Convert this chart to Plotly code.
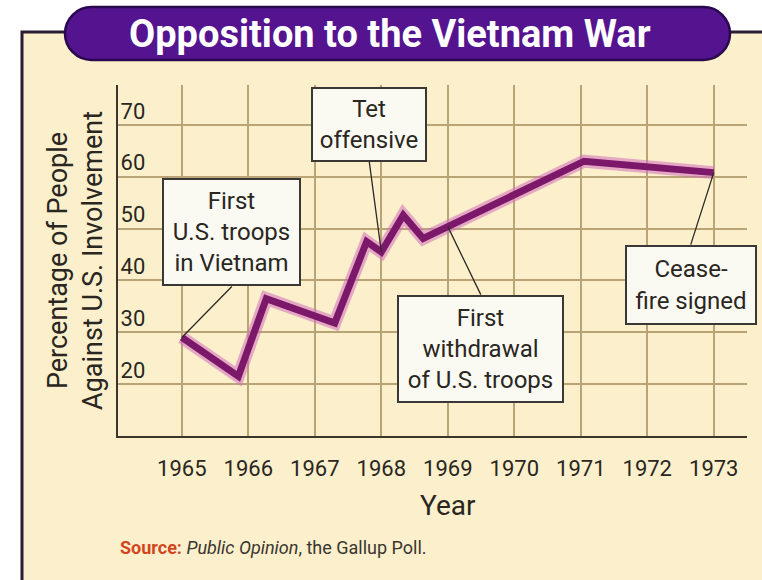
import numpy as np
import plotly.graph_objects as go

# ---------------- data ----------------
years = [1965.0, 1965.85, 1966.27, 1967.30, 1967.78, 1968.0, 1968.33, 1968.63, 1971.05, 1973.0]
percent_against = [29.0, 21.5, 36.5, 31.8, 47.5, 45.5, 52.6, 48.1, 63.0, 60.8]

x_tick_vals = [1965, 1966, 1967, 1968, 1969, 1970, 1971, 1972, 1973]
x_tick_text = ["1965", "1966", "1967", "1968", "1969", "1970", "1971", "1972", "1973"]
y_tick_vals = [20, 30, 40, 50, 60, 70]
y_tick_text = ["20", "30", "40", "50", "60", "70"]

event_labels = ["First<br>U.S. troops<br>in Vietnam", "Tet<br>offensive",
                "First<br>withdrawal<br>of U.S. troops", "Cease-<br>fire signed"]
event_years = [1965.0, 1968.0, 1969.0, 1973.0]

title_text = "Opposition to the Vietnam War"
y_title = "Percentage of People<br>Against U.S. Involvement"
x_title = "Year"
source_html = ("<span style='color:#d2461e'><b>Source:</b></span> "
               "<i>Public Opinion</i>, the Gallup Poll.")

# ---------------- layout geometry ----------------
W, H = 762, 580
L, R, T, B = 118, 15, 85, 144
PW, PH = W - L - R, H - T - B

def pxx(x):  # pixel x -> paper x
    return (x - L) / PW

def pxy(y):  # pixel y (from top) -> paper y
    return (T + PH - y) / PH

FONT = "Roboto, Liberation Sans, sans-serif"
TXT = "#2a2622"
CREAM = "#fbf0cb"
GRID = "#b9a476"

fig = go.Figure()

# glow / halo under the line
fig.add_trace(go.Scatter(x=years, y=percent_against, mode="lines",
                         line=dict(color="rgba(212,110,190,0.55)", width=13),
                         hoverinfo="skip", showlegend=False))
fig.add_trace(go.Scatter(x=years, y=percent_against, mode="lines",
                         line=dict(color="#7b186a", width=7),
                         showlegend=False))

# ---------------- shapes (frame + banner) ----------------
shapes = []
shapes.append(dict(type="rect", xref="paper", yref="paper", layer="below",
                   x0=pxx(22), x1=pxx(820), y0=pxy(640), y1=pxy(32),
                   fillcolor=CREAM, line=dict(color="#2b1d33", width=3)))

x0, x1, y0, y1 = 65, 730, 7, 60
r = (y1 - y0) / 2
k = 0.5523 * r
cy = (y0 + y1) / 2
pts = [
    ("M", [(x0 + r, y0)]),
    ("L", [(x1 - r, y0)]),
    ("C", [(x1 - r + k, y0), (x1, cy - k), (x1, cy)]),
    ("C", [(x1, cy + k), (x1 - r + k, y1), (x1 - r, y1)]),
    ("L", [(x0 + r, y1)]),
    ("C", [(x0 + r - k, y1), (x0, cy + k), (x0, cy)]),
    ("C", [(x0, cy - k), (x0 + r - k, y0), (x0 + r, y0)]),
]
path = ""
for cmd, plist in pts:
    path += cmd + " " + " ".join(f"{pxx(a):.5f},{pxy(b):.5f}" for a, b in plist) + " "
path += "Z"
shapes.append(dict(type="path", xref="paper", yref="paper", path=path,
                   fillcolor="#55148f", line=dict(color="#2a0850", width=2.5)))

# ---------------- annotations ----------------
annotations = []
annotations.append(dict(text=f"<b>{title_text}</b>", xref="paper", yref="paper",
                        x=pxx(390), y=pxy(34), xanchor="center", yanchor="middle",
                        showarrow=False, font=dict(family=FONT, size=38, color="white")))

event_y = np.interp(event_years, years, percent_against)
# (ax, ay) pixel offsets of the box anchor, anchor side, outer box size
box_specs = [
    dict(ax=50, ay=-51, yanchor="bottom", w=139, h=108),
    dict(ax=-12, ay=-90, yanchor="bottom", w=116, h=75),
    dict(ax=33, ay=68, yanchor="top", w=167, h=108),
    dict(ax=-23, ay=72, yanchor="top", w=132, h=80),
]
for lab, ex, ey, spec in zip(event_labels, event_years, event_y, box_specs):
    annotations.append(dict(
        text=lab, x=ex, y=float(ey), xref="x", yref="y",
        showarrow=True, arrowhead=0, arrowwidth=1.3, arrowcolor="#2e2a26",
        ax=spec["ax"], ay=spec["ay"], standoff=0,
        xanchor="center", yanchor=spec["yanchor"],
        width=spec["w"] - 6, height=spec["h"] - 6,
        bgcolor="#fafaf3", bordercolor="#3a3835", borderwidth=2, borderpad=1,
        font=dict(family=FONT, size=24, color=TXT), align="center"))

annotations.append(dict(text=x_title, x=1969, xref="x", yref="paper", y=pxy(505),
                        xanchor="center", yanchor="middle", showarrow=False,
                        font=dict(family=FONT, size=28, color=TXT)))
annotations.append(dict(text=source_html, xref="paper", yref="paper",
                        x=0, y=pxy(547), xanchor="left", yanchor="middle",
                        showarrow=False, font=dict(family=FONT, size=18, color="#3a3530")))

fig.update_layout(
    width=W, height=H,
    margin=dict(l=L, r=R, t=T, b=B, pad=0),
    paper_bgcolor="white", plot_bgcolor="rgba(0,0,0,0)",
    shapes=shapes, annotations=annotations, showlegend=False,
    xaxis=dict(range=[1964.04, 1973.5], tickvals=x_tick_vals, ticktext=x_tick_text,
               showgrid=True, gridcolor=GRID, gridwidth=1.5, zeroline=False,
               showline=True, linecolor="#3b352a", linewidth=2, ticks="",
               ticklabelstandoff=12,
               tickfont=dict(family=FONT, size=22, color=TXT)),
    yaxis=dict(range=[10, 77.7], tickvals=y_tick_vals, ticktext=y_tick_text,
               showgrid=True, gridcolor=GRID, gridwidth=1.5, zeroline=False,
               showline=True, linecolor="#3b352a", linewidth=2, ticks="",
               ticklabelposition="inside", ticklabelstandoff=4, ticklabelshift=-14,
               tickfont=dict(family=FONT, size=22, color=TXT),
               title=dict(text=y_title, standoff=10,
                          font=dict(family=FONT, size=27, color=TXT))),
)

fig.write_html("out.html", config={"displayModeBar": False},
               post_script="document.body.style.margin='0px';")
